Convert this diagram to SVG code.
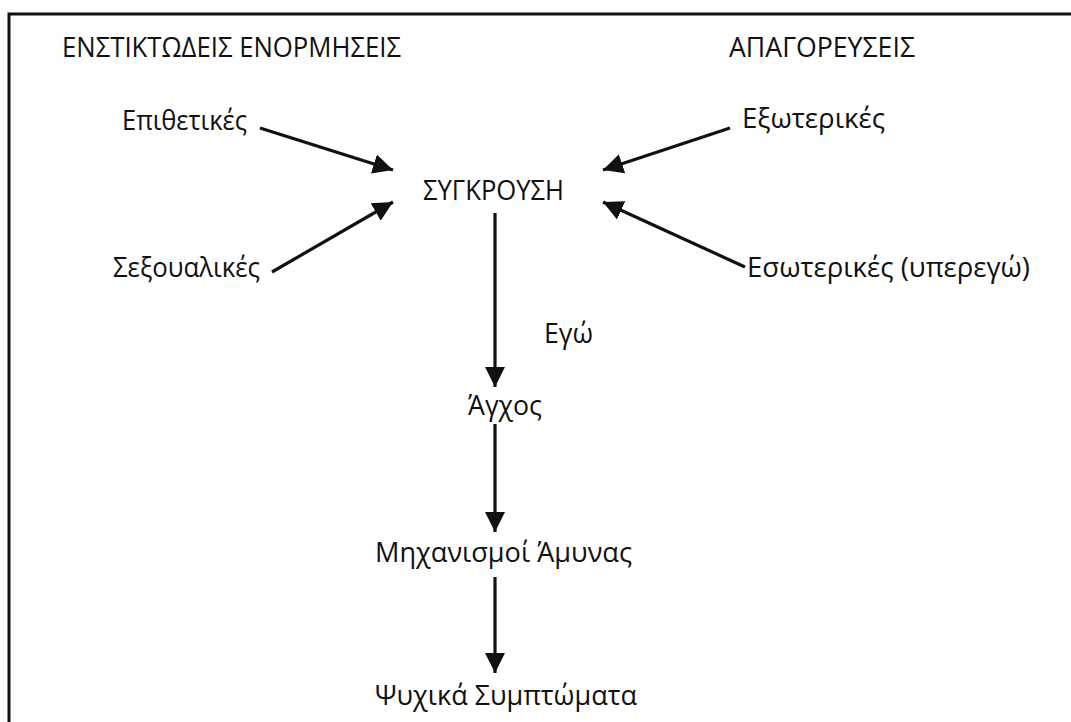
<svg xmlns="http://www.w3.org/2000/svg" width="1071" height="722" viewBox="0 0 1071 722">
<style>
text{font-family:"Open Sans","Noto Sans",sans-serif;font-size:28px;fill:#111;}
.c{stroke:#111;stroke-width:3.2;fill:none;}
</style>
<defs>
<marker id="ah" markerUnits="userSpaceOnUse" markerWidth="22" markerHeight="22" viewBox="0 0 22 22" refX="20" refY="11" orient="auto">
<path d="M0,1 L20,11 L0,21 Z" fill="#111"/>
</marker>
</defs>
<rect width="1071" height="722" fill="#fff"/>
<path d="M9,722 V14 H1071" stroke="#111" stroke-width="3" fill="none"/>
<g id="h1"><text x="62" y="57" textLength="339" lengthAdjust="spacingAndGlyphs">ΕΝΣΤΙΚΤΩΔΕΙΣ ΕΝΟΡΜΗΣΕΙΣ</text></g>
<g id="h2"><text x="729" y="57" textLength="186" lengthAdjust="spacingAndGlyphs">ΑΠΑΓΟΡΕΥΣΕΙΣ</text></g>
<g id="n-epith"><text x="122" y="130" textLength="125" lengthAdjust="spacingAndGlyphs">Επιθετικές</text></g>
<g id="n-sex"><text x="113" y="277" textLength="147" lengthAdjust="spacingAndGlyphs">Σεξουαλικές</text></g>
<g id="n-syg"><text x="423" y="200" textLength="141" lengthAdjust="spacingAndGlyphs">ΣΥΓΚΡΟΥΣΗ</text></g>
<g id="n-exo"><text x="742" y="128" textLength="143" lengthAdjust="spacingAndGlyphs">Εξωτερικές</text></g>
<g id="n-eso"><text x="747" y="277" textLength="283" lengthAdjust="spacingAndGlyphs">Εσωτερικές (υπερεγώ)</text></g>
<g id="n-ego"><text x="544" y="343" textLength="49" lengthAdjust="spacingAndGlyphs">Εγώ</text></g>
<g id="n-agx"><text x="468" y="415" textLength="74" lengthAdjust="spacingAndGlyphs">Άγχος</text></g>
<g id="n-mix"><text x="375" y="562" textLength="257" lengthAdjust="spacingAndGlyphs">Μηχανισμοί Άμυνας</text></g>
<g id="n-psy"><text x="375" y="705" textLength="262" lengthAdjust="spacingAndGlyphs">Ψυχικά Συμπτώματα</text></g>
<g id="connectors">
<line class="c" x1="260" y1="128" x2="393" y2="170" marker-end="url(#ah)"/>
<line class="c" x1="272" y1="272" x2="393" y2="202" marker-end="url(#ah)"/>
<line class="c" x1="730" y1="128" x2="603" y2="170" marker-end="url(#ah)"/>
<line class="c" x1="745" y1="267" x2="603" y2="202" marker-end="url(#ah)"/>
<line class="c" x1="495" y1="213" x2="495" y2="387" marker-end="url(#ah)"/>
<line class="c" x1="495" y1="424" x2="495" y2="532" marker-end="url(#ah)"/>
<line class="c" x1="495" y1="577" x2="495" y2="673" marker-end="url(#ah)"/>
</g>
</svg>
